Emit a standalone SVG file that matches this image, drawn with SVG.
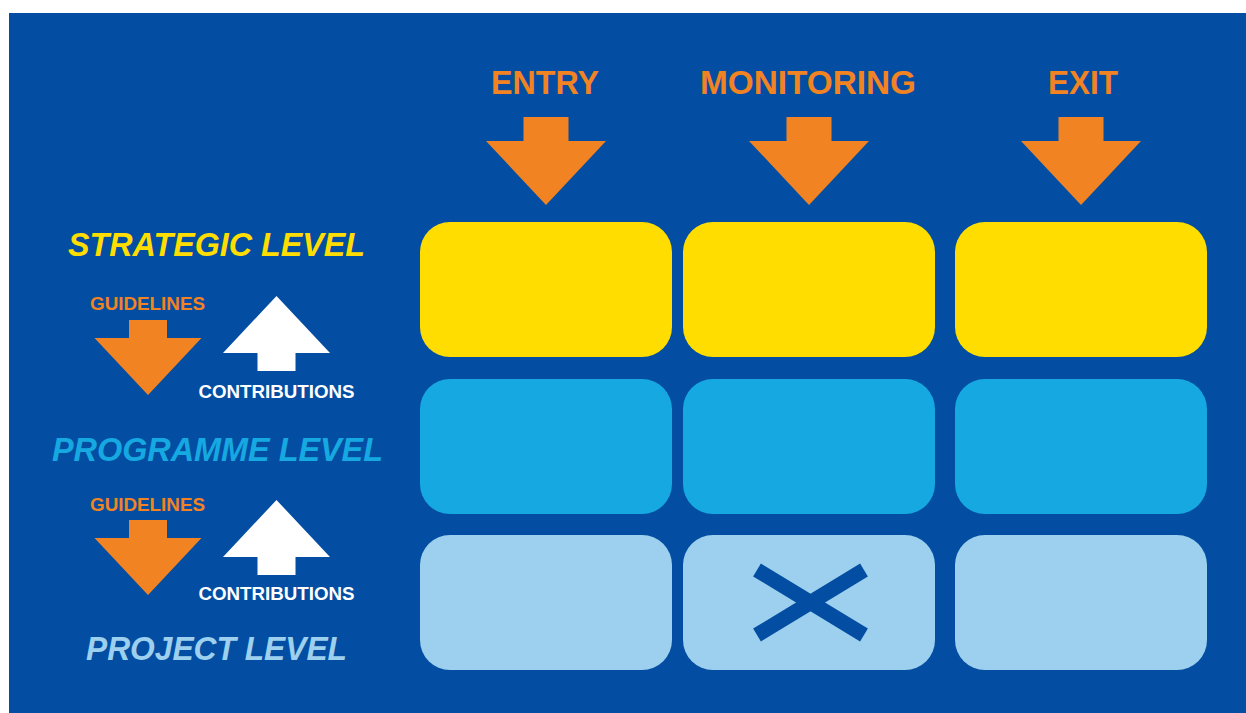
<svg xmlns="http://www.w3.org/2000/svg" width="1246" height="713" viewBox="0 0 1246 713">
<style>
.bg{fill:#034EA2}
.t{font-family:"Liberation Sans",Arial,sans-serif;font-weight:bold}
.head{font-size:33px;fill:#F28322}
.lvl{font-size:33px;font-style:italic}
.small{font-size:19px}
.y{fill:#FFDD00}
.m{fill:#16A9E1}
.l{fill:#9DD0EE}
.or{fill:#F28322}
.wh{fill:#FFFFFF}
</style>
<defs>
<path id="bigDown" d="M-22.5,0 H22.5 V24 H60 L0,88 L-60,24 H-22.5 Z"/>
<path id="smallArrow" d="M-19,0 H19 V18 H53.5 L0,75 L-53.5,18 H-19 Z"/>
</defs>
<rect x="0" y="0" width="1246" height="713" fill="#FFFFFF"/>
<rect class="bg" x="9" y="13" width="1237" height="700"/>

<g id="header-entry"><text class="t head" x="545" y="94" text-anchor="middle" textLength="108" lengthAdjust="spacingAndGlyphs">ENTRY</text></g>
<g id="header-monitoring"><text class="t head" x="808" y="94" text-anchor="middle" textLength="216" lengthAdjust="spacingAndGlyphs">MONITORING</text></g>
<g id="header-exit"><text class="t head" x="1083" y="94" text-anchor="middle" textLength="70" lengthAdjust="spacingAndGlyphs">EXIT</text></g>

<g id="label-strategic"><text class="t lvl" x="68" y="256" fill="#FFDD00" textLength="297" lengthAdjust="spacingAndGlyphs">STRATEGIC LEVEL</text></g>
<g id="label-programme"><text class="t lvl" x="52" y="461" fill="#16A9E1" textLength="331" lengthAdjust="spacingAndGlyphs">PROGRAMME LEVEL</text></g>
<g id="label-project"><text class="t lvl" x="86" y="660" fill="#9DD0EE" textLength="261" lengthAdjust="spacingAndGlyphs">PROJECT LEVEL</text></g>

<g id="guidelines-1"><text class="t small" x="90" y="309.5" fill="#F28322" textLength="115" lengthAdjust="spacingAndGlyphs">GUIDELINES</text></g>
<g id="contributions-1"><text class="t small" x="198.5" y="397.7" fill="#FFFFFF" textLength="156" lengthAdjust="spacingAndGlyphs">CONTRIBUTIONS</text></g>
<g id="guidelines-2"><text class="t small" x="90" y="510.7" fill="#F28322" textLength="115" lengthAdjust="spacingAndGlyphs">GUIDELINES</text></g>
<g id="contributions-2"><text class="t small" x="198.5" y="600" fill="#FFFFFF" textLength="156" lengthAdjust="spacingAndGlyphs">CONTRIBUTIONS</text></g>

<g id="strategic-entry"><rect class="y" x="420" y="222" width="252" height="135" rx="30"/></g>
<g id="strategic-monitoring"><rect class="y" x="683" y="222" width="252" height="135" rx="30"/></g>
<g id="strategic-exit"><rect class="y" x="955" y="222" width="252" height="135" rx="30"/></g>
<g id="programme-entry"><rect class="m" x="420" y="379" width="252" height="135" rx="30"/></g>
<g id="programme-monitoring"><rect class="m" x="683" y="379" width="252" height="135" rx="30"/></g>
<g id="programme-exit"><rect class="m" x="955" y="379" width="252" height="135" rx="30"/></g>
<g id="project-entry"><rect class="l" x="420" y="535" width="252" height="135" rx="30"/></g>
<g id="project-monitoring"><rect class="l" x="683" y="535" width="252" height="135" rx="30"/>
<path d="M757,570 L864,635 M757,635 L864,570" stroke="#034EA2" stroke-width="15" fill="none"/></g>
<g id="project-exit"><rect class="l" x="955" y="535" width="252" height="135" rx="30"/></g>

<g id="connectors">
<use href="#bigDown" class="or" transform="translate(546,117)"/>
<use href="#bigDown" class="or" transform="translate(809,117)"/>
<use href="#bigDown" class="or" transform="translate(1081,117)"/>
<use href="#smallArrow" class="or" transform="translate(148,320)"/>
<use href="#smallArrow" class="wh" transform="translate(276.5,371) scale(1,-1)"/>
<use href="#smallArrow" class="or" transform="translate(148,520)"/>
<use href="#smallArrow" class="wh" transform="translate(276.5,575) scale(1,-1)"/>
</g>
</svg>
